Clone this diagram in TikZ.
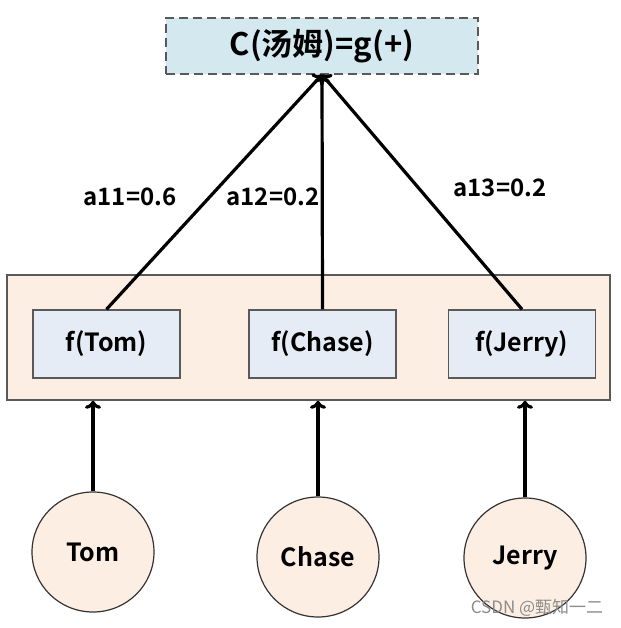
\documentclass[tikz,border=0pt]{standalone}
\usepackage{fontspec}
\setmainfont{Noto Sans CJK SC}[BoldFont={* Bold}]
\newfontfamily\markfont{Noto Sans CJK SC}
\usetikzlibrary{shapes.geometric,arrows.meta}
\definecolor{topblue}{HTML}{D3E9EF}
\definecolor{peach}{HTML}{FDEEE3}
\definecolor{boxblue}{HTML}{E6ECF6}
\definecolor{rimgray}{HTML}{595959}
\begin{document}
\begin{tikzpicture}[x=1pt, y=-1pt, line width=3.2pt, -{To[length=8pt,width=16pt]}]
\tikzset{layer/.style={draw=rimgray, line width=1.6pt, fill=peach, minimum width=603pt, minimum height=125pt, inner sep=0pt},
  fbox/.style={draw=rimgray, line width=1.4pt, fill=boxblue, minimum width=147pt, minimum height=68pt, inner sep=0pt, font=\bfseries\fontsize{25}{28}\selectfont},
  word/.style={ellipse, draw=black!80, line width=1.2pt, fill=peach, minimum width=122pt, minimum height=120pt, inner sep=0pt, font=\bfseries\fontsize{25}{28}\selectfont},
  weight/.style={font=\bfseries\fontsize{24}{28}\selectfont}}
\useasboundingbox (0,0) rectangle (620,628);
\node[draw=rimgray, line width=1.4pt, dash pattern=on 9pt off 5pt, fill=topblue, minimum width=312pt, minimum height=56pt, inner sep=0pt, font=\bfseries\fontsize{31}{34}\selectfont] (c) at (322,46) {C(汤姆)=g(+)};
\node[layer] (layer) at (308.5,337.5) {};
\node[fbox] (ftom) at (106.5,344) {f(Tom)};
\node[fbox] (fchase) at (322.5,344) {f(Chase)};
\node[fbox] (fjerry) at (522,344) {f(Jerry)};
\node[word] (tom) at (93,552) {Tom};
\node[word] (chase) at (318,557) {Chase};
\node[word] (jerry) at (525,558) {Jerry};
\node[weight] (w1) at (130,197) {a11=0.6};
\node[weight] (w2) at (273,197) {a12=0.2};
\node[weight] (w3) at (500,188) {a13=0.2};
\path (ftom.north) edge (c.south);
\path (fchase.north) edge (c.south);
\path (fjerry.north) edge (c.south);
\path (tom.north) edge (tom.north |- layer.south);
\path (chase.north) edge (chase.north |- layer.south);
\path (jerry.north) edge (jerry.north |- layer.south);
\node[text=black!45, font=\markfont\fontsize{17}{20}\selectfont] (mark) at (537,608) {CSDN @甄知一二};
\end{tikzpicture}
\end{document}
